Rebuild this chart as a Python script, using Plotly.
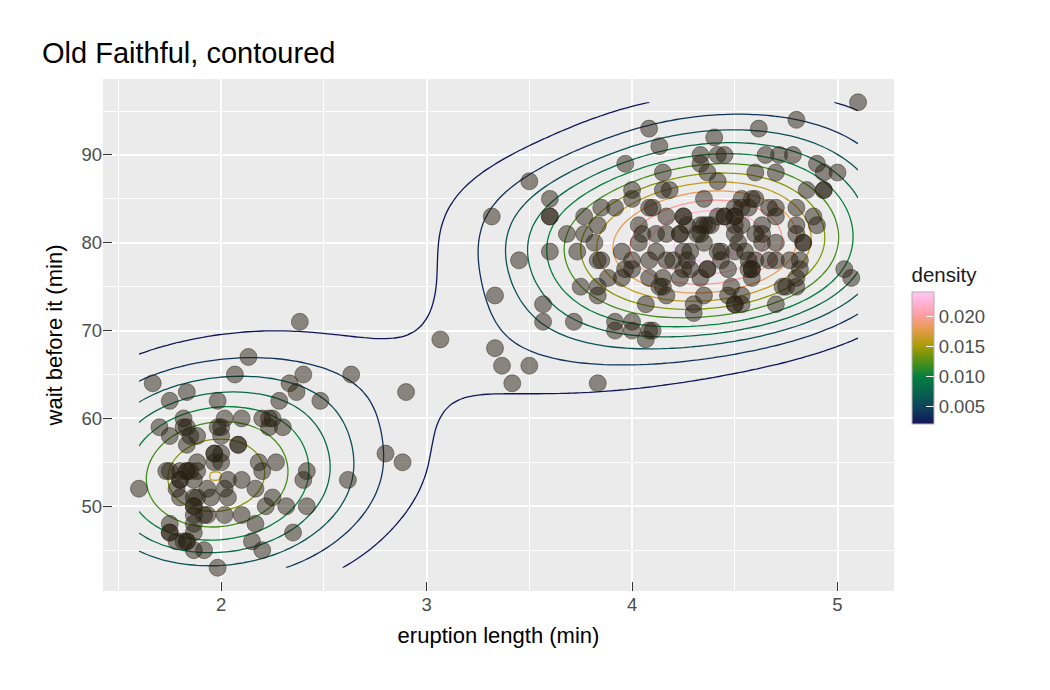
import numpy as np
import plotly.graph_objects as go

# Old Faithful geyser data (eruption length, waiting time)
eruptions = [
    3.600, 1.800, 3.333, 2.283, 4.533, 2.883, 4.700, 3.600, 1.950, 4.350,
    1.833, 3.917, 4.200, 1.750, 4.700, 2.167, 1.750, 4.800, 1.600, 4.250,
    1.800, 1.750, 3.450, 3.067, 4.533, 3.600, 1.967, 4.083, 3.850, 4.433,
    4.300, 4.467, 3.367, 4.033, 3.833, 2.017, 1.867, 4.833, 1.833, 4.783,
    4.350, 1.883, 4.567, 1.750, 4.533, 3.317, 3.833, 2.100, 4.633, 2.000,
    4.800, 4.716, 1.833, 4.833, 1.733, 4.883, 3.717, 1.667, 4.567, 4.317,
    2.233, 4.500, 1.750, 4.800, 1.817, 4.400, 4.167, 4.700, 2.067, 4.700,
    4.033, 1.967, 4.500, 4.000, 1.983, 5.067, 2.017, 4.567, 3.883, 3.600,
    4.133, 4.333, 4.100, 2.633, 4.067, 4.933, 3.950, 4.517, 2.167, 4.000,
    2.200, 4.333, 1.867, 4.817, 1.833, 4.300, 4.667, 3.750, 1.867, 4.900,
    2.483, 4.367, 2.100, 4.500, 4.050, 1.867, 4.700, 1.783, 4.850, 3.683,
    4.733, 2.300, 4.900, 4.417, 1.700, 4.633, 2.317, 4.600, 1.817, 4.417,
    2.617, 4.067, 4.250, 1.967, 4.600, 3.767, 1.917, 4.500, 2.267, 4.650,
    1.867, 4.167, 2.800, 4.333, 1.833, 4.383, 1.883, 4.933, 2.033, 3.733,
    4.233, 2.233, 4.533, 4.817, 4.333, 1.983, 4.633, 2.017, 5.100, 1.800,
    5.033, 4.000, 2.400, 4.600, 3.567, 4.000, 4.500, 4.083, 1.800, 3.967,
    2.200, 4.150, 2.000, 3.833, 3.500, 4.583, 2.367, 5.000, 1.933, 4.617,
    1.917, 2.083, 4.583, 3.333, 4.167, 4.333, 4.500, 2.417, 4.000, 4.167,
    1.883, 4.583, 4.250, 3.767, 2.033, 4.433, 4.083, 1.833, 4.417, 2.183,
    4.800, 1.833, 4.800, 4.100, 3.966, 4.233, 3.500, 4.366, 2.250, 4.667,
    2.100, 4.350, 4.133, 1.867, 4.600, 1.783, 4.367, 3.850, 1.933, 4.500,
    2.383, 4.700, 1.867, 3.833, 3.417, 4.233, 2.400, 4.800, 2.000, 4.150,
    1.867, 4.267, 1.750, 4.483, 4.000, 4.117, 4.083, 4.267, 3.917, 4.550,
    4.083, 2.417, 4.183, 2.217, 4.450, 1.883, 1.850, 4.283, 3.950, 2.333,
    4.150, 2.350, 4.933, 2.900, 4.583, 3.833, 2.083, 4.367, 2.133, 4.350,
    2.200, 4.450, 3.567, 4.500, 4.150, 3.817, 3.917, 4.450, 2.000, 4.283,
    4.767, 4.533, 1.850, 4.250, 1.983, 2.250, 4.750, 4.117, 2.150, 4.417,
    1.817, 4.467,
]
waiting = [
    79, 54, 74, 62, 85, 55, 88, 85, 51, 85,
    54, 84, 78, 47, 83, 52, 62, 84, 52, 79,
    51, 47, 78, 69, 74, 83, 55, 76, 78, 79,
    73, 77, 66, 80, 74, 52, 48, 80, 59, 90,
    80, 58, 84, 58, 73, 83, 64, 53, 82, 59,
    75, 90, 54, 80, 54, 83, 71, 64, 77, 81,
    59, 84, 48, 82, 60, 92, 78, 78, 65, 73,
    82, 56, 79, 71, 62, 76, 60, 78, 76, 83,
    75, 82, 70, 65, 73, 88, 76, 80, 48, 86,
    60, 90, 50, 78, 63, 72, 84, 75, 51, 82,
    62, 88, 49, 83, 81, 47, 84, 52, 86, 81,
    75, 59, 89, 79, 59, 81, 50, 85, 59, 87,
    53, 69, 77, 56, 88, 81, 45, 82, 55, 90,
    45, 83, 56, 89, 46, 82, 51, 86, 53, 79,
    81, 60, 82, 77, 76, 59, 80, 49, 96, 53,
    77, 77, 65, 81, 71, 70, 81, 93, 53, 89,
    45, 86, 58, 78, 66, 76, 63, 88, 52, 93,
    49, 57, 77, 68, 81, 81, 73, 50, 85, 74,
    55, 77, 83, 83, 51, 78, 84, 46, 83, 55,
    81, 57, 76, 84, 77, 81, 87, 77, 51, 78,
    60, 82, 91, 53, 78, 46, 77, 84, 49, 83,
    71, 80, 49, 75, 64, 76, 53, 94, 55, 76,
    50, 82, 54, 75, 78, 79, 78, 78, 70, 79,
    70, 54, 86, 50, 90, 54, 54, 77, 79, 64,
    75, 47, 86, 63, 85, 82, 57, 82, 67, 74,
    54, 83, 73, 73, 88, 80, 71, 83, 56, 79,
    78, 84, 58, 83, 43, 60, 75, 81, 46, 90,
    46, 74,
]
assert len(eruptions) == len(waiting), (len(eruptions), len(waiting))

x = np.array(eruptions)
y = np.array(waiting)


# 2d kernel density, same recipe as MASS::kde2d on a 100x100 grid
def bw_nrd(v):
    q1, q3 = np.quantile(v, [0.25, 0.75])
    return 4 * 1.06 * min(np.std(v, ddof=1), (q3 - q1) / 1.34) * len(v) ** (-0.2)


gx = np.linspace(x.min(), x.max(), 100)
gy = np.linspace(y.min(), y.max(), 100)
hx, hy = bw_nrd(x) / 4, bw_nrd(y) / 4
kx = np.exp(-0.5 * ((gx[:, None] - x[None, :]) / hx) ** 2) / np.sqrt(2 * np.pi)
ky = np.exp(-0.5 * ((gy[:, None] - y[None, :]) / hy) ** 2) / np.sqrt(2 * np.pi)
dens = (kx @ ky.T) / (len(x) * hx * hy)

cmin, cmax = 0.002, 0.024
cscale = [
    [0.0, "#14155a"],
    [0.14, "#0c465c"],
    [0.36, "#05803e"],
    [0.47, "#4e9018"],
    [0.59, "#a89c00"],
    [0.72, "#e89c50"],
    [0.82, "#ff9c9c"],
    [0.91, "#ffb0d0"],
    [1.0, "#ffc8f4"],
]

fig = go.Figure()
fig.add_trace(go.Scatter(
    x=x, y=y, mode="markers",
    marker=dict(size=17, color="rgba(40,32,18,0.5)",
                line=dict(color="rgba(40,32,18,0.45)", width=1)),
    showlegend=False,
))
fig.add_trace(go.Contour(
    x=gx, y=gy, z=dens.T,
    zmin=cmin, zmax=cmax, colorscale=cscale,
    contours=dict(start=0.002, end=0.024, size=0.002, coloring="lines"),
    line=dict(width=1.3), showscale=False, hoverinfo="skip",
))
# colour bar for density
fig.add_trace(go.Scatter(
    x=[None], y=[None], mode="markers", showlegend=False,
    marker=dict(color=[cmin, cmax], cmin=cmin, cmax=cmax, colorscale=cscale,
                showscale=True,
                colorbar=dict(
                    title=dict(text="density", side="top",
                               font=dict(size=20.5, color="#1a1a1a")),
                    x=1.0228, xanchor="left", xpad=0,
                    y=0.326, yanchor="bottom", ypad=0,
                    thickness=22, len=160, lenmode="pixels",
                    tickvals=[0.005, 0.010, 0.015, 0.020],
                    ticktext=["0.005", "0.010", "0.015", "0.020"],
                    ticks="inside", ticklen=8, tickcolor="white",
                    tickfont=dict(size=18.5, color="#4d4d4d"),
                    outlinecolor="#b0b0b0", outlinewidth=1,
                )),
))

axis_common = dict(
    showgrid=True, gridcolor="white", gridwidth=1.5, zeroline=False,
    ticks="inside", ticklen=9, tickcolor="#333333", tickwidth=1.3,
    tickfont=dict(size=18.5, color="#4d4d4d"),
    title_font=dict(size=22, color="#000000"),
    showline=False,
)
fig.update_xaxes(
    range=[1.425, 5.275], tickvals=[2, 3, 4, 5],
    minor=dict(dtick=0.5, tick0=1.5, showgrid=True, gridcolor="white", gridwidth=0.8),
    title_text="eruption length (min)", title_standoff=14, **axis_common,
)
fig.update_yaxes(
    range=[40.35, 98.65], tickvals=[50, 60, 70, 80, 90],
    minor=dict(dtick=5, tick0=45, showgrid=True, gridcolor="white", gridwidth=0.8),
    title_text="wait before it (min)", title_standoff=12, **axis_common,
)
fig.update_layout(
    width=1050, height=690,
    title=dict(text="Old Faithful, contoured", x=34 / 1050, xanchor="left",
               y=1 - 45 / 690, yanchor="middle",
               font=dict(size=29, color="#000000")),
    font=dict(family="Liberation Sans, Arial, sans-serif"),
    plot_bgcolor="#ebebeb", paper_bgcolor="white",
    margin=dict(l=95, r=164, t=71, b=107, autoexpand=False),
)

fig.write_html("out.html")
